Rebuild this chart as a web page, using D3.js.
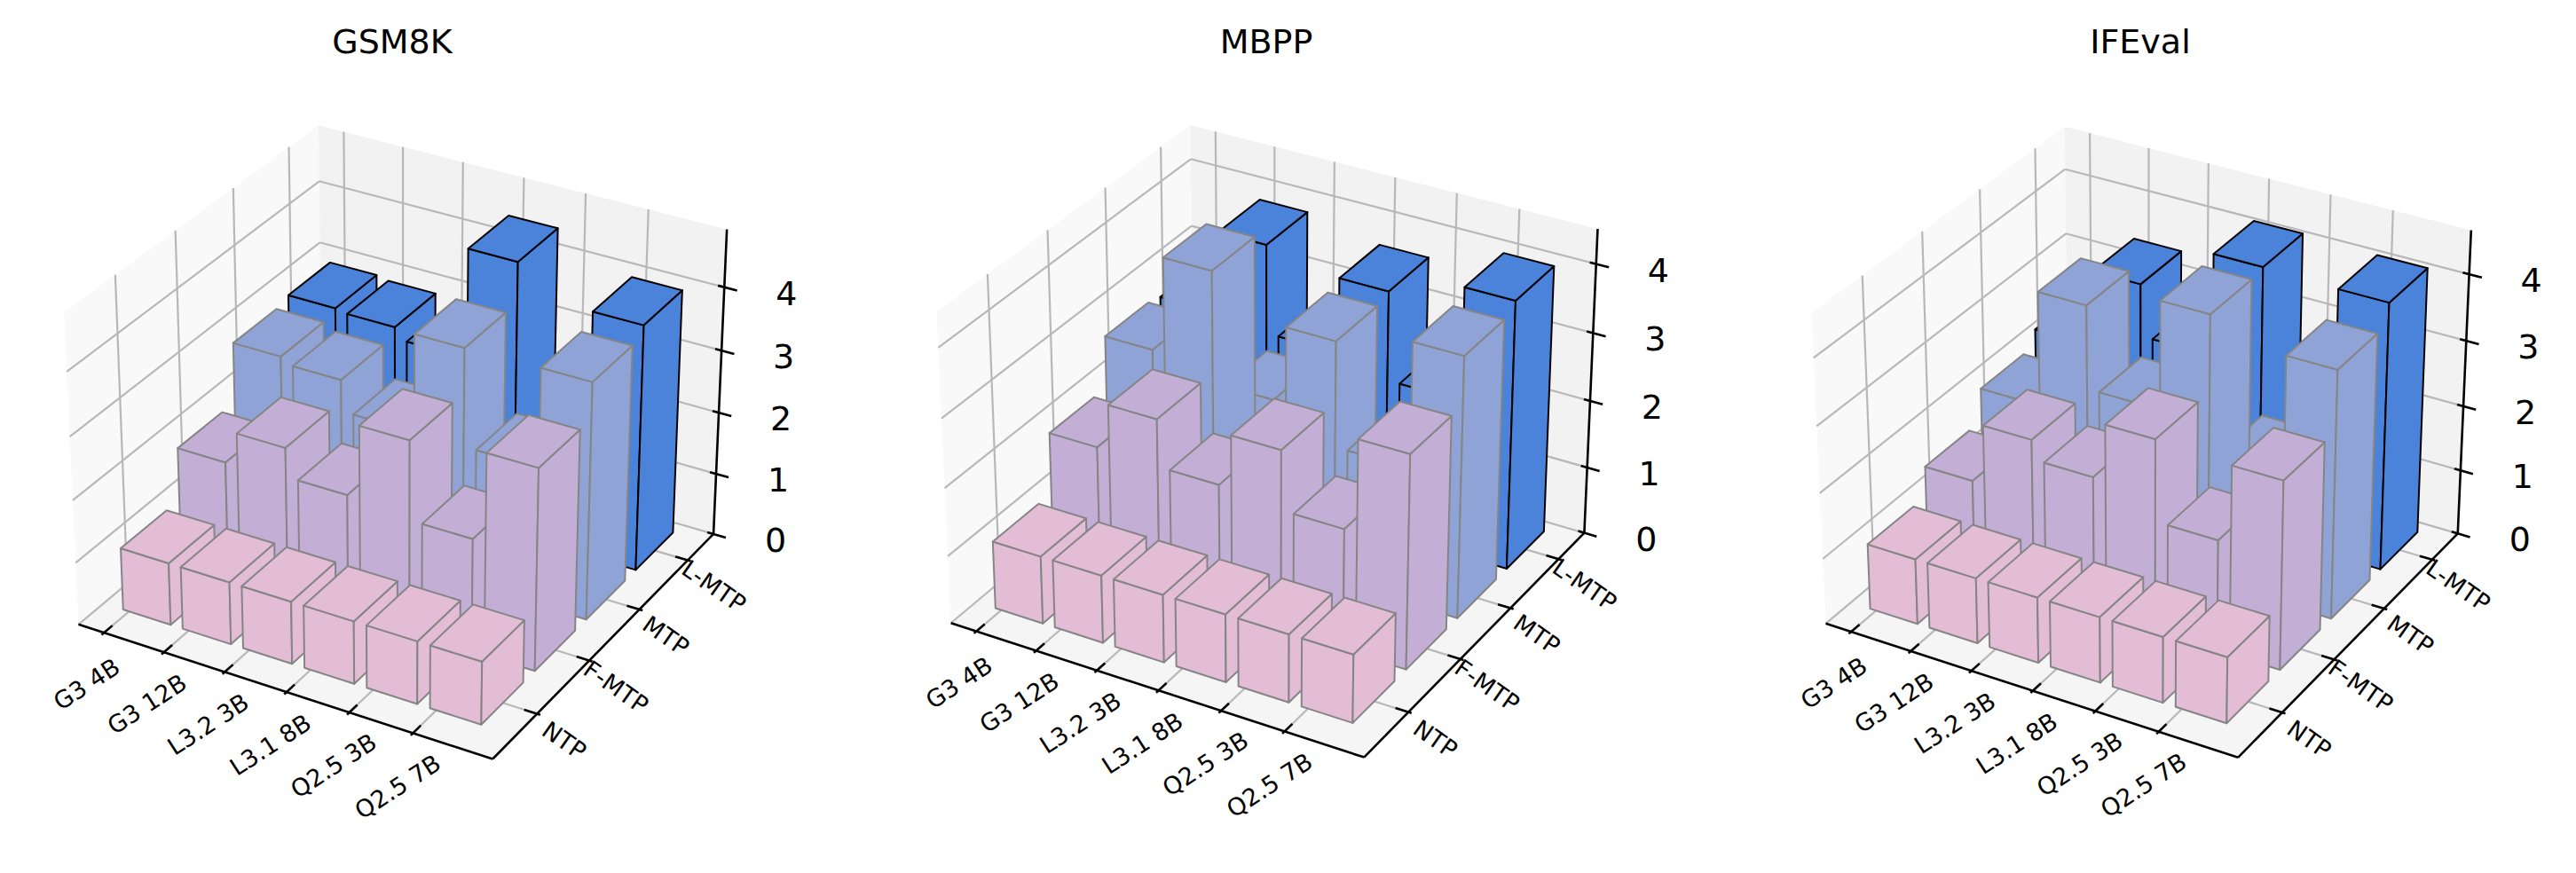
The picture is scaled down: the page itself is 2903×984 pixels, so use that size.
<!DOCTYPE html><html><head><meta charset="utf-8">
<script src="https://cdn.jsdelivr.net/npm/d3@7"></script>
<style>body{margin:0;background:#fff}</style></head><body>
<svg id="c" width="2903" height="984" xmlns="http://www.w3.org/2000/svg"></svg>
<script>
const categories = ["G3 4B","G3 12B","L3.2 3B","L3.1 8B","Q2.5 3B","Q2.5 7B"];
const series = ["NTP","F-MTP","MTP","L-MTP"];
const zTicks = [0,1,2,3,4];
const titles = ["GSM8K","MBPP","IFEval"];
// rows: NTP, F-MTP, MTP, L-MTP ; columns follow categories
const gsm8k  = [[1,1,1,1,1,1],[1.84,2.36,1.9,3.05,1.8,3.2],[2.8,2.7,2.2,3.75,2.2,3.77],[2.87,2.83,2.65,4.39,2.44,3.93]];
const mbpp   = [[1,1,1,1,1,1],[1.9,2.57,1.88,2.65,1.78,3.12],[2.66,4.05,2.43,3.53,2.0,3.82],[2.6,3.8,2.5,3.6,2.3,3.95]];
const ifeval = [[1,1,1,1,1,1],[1.46,2.36,2.07,2.91,1.68,2.85],[1.96,3.69,2.43,4.06,2.06,3.76],[2.2,3.35,2.56,4.1,2.36,4.07]];
const panelData = [gsm8k, mbpp, ifeval];
const zMax = [4.9, 4.5, 4.65];

const colors = ["#e3bcd5","#c3aed5","#8fa3d6","#4a83d9"];
const edgeColors = ["#858585","#858585","#858585","#000000"];
const font = "DejaVu Sans, sans-serif";

const svg = d3.select("#c");
const deg = Math.PI/180, elev = 30*deg, azim = -60*deg;
const nrm = Math.hypot(4,4,3), K = 1.8294640721620434/nrm;
const A = [4*K, 4*K, 3*K];
const R = A.map(a=>a/2);
const w = [Math.cos(elev)*Math.cos(azim), Math.cos(elev)*Math.sin(azim), Math.sin(elev)];
const eye = R.map((r,i)=>r + 10*w[i]);
let u = [-w[1], w[0], 0]; const un = Math.hypot(...u); u = u.map(a=>a/un);
const v = [w[1]*u[2]-w[2]*u[1], w[2]*u[0]-w[0]*u[2], w[0]*u[1]-w[1]*u[0]];
const dot = (a,b)=>a[0]*b[0]+a[1]*b[1]+a[2]*b[2];

const xLim = [-0.43, 6.23], yLim = [-0.82, 3.55];
const bx0 = -0.1, bw = 0.8, by0 = -0.4, bd = 0.78;

titles.forEach((title, p) => {
  const off = 985*p;
  const g = svg.append("g").attr("transform", `translate(${off},0)`);
  const sx = d3.scaleLinear().domain(xLim).range([0, A[0]]);
  const sy = d3.scaleLinear().domain(yLim).range([0, A[1]]);
  const sz = d3.scaleLinear().domain([0, zMax[p]]).range([0, A[2]]);
  const raw = (x,y,z) => { const P=[sx(x),sy(y),sz(z)]; const d=P.map((a,i)=>a-eye[i]); const depth=-dot(d,w); return [dot(d,u)/depth, dot(d,v)/depth, depth]; };
  const z4 = [[823,322],[812,291],[811,304]][p];
  const anchors = [[[xLim[0],yLim[0],0],[90,705]],[[xLim[1],yLim[0],0],[553,855]],[[xLim[1],yLim[1],0],[798,603]],[[xLim[1],yLim[1],4],z4]];
  const rs = anchors.map(a=>raw(...a[0])), ps = anchors.map(a=>a[1]);
  const mrx=d3.mean(rs,r=>r[0]), mry=d3.mean(rs,r=>r[1]), mX=d3.mean(ps,q=>q[0]), mY=d3.mean(ps,q=>q[1]);
  let num=0, den=0;
  rs.forEach((r,i)=>{const dx=r[0]-mrx, dy=r[1]-mry; num+=dx*(ps[i][0]-mX)-dy*(ps[i][1]-mY); den+=dx*dx+dy*dy;});
  const s=num/den, ox=mX-s*mrx, oy=mY+s*mry;
  const P = (x,y,z) => { const r=raw(x,y,z); return [ox+s*r[0], oy-s*r[1]]; };
  const poly = pts => "M" + pts.map(q=>P(...q).map(n=>n.toFixed(2)).join(",")).join("L") + "Z";
  const seg = (a,b) => { const A1=P(...a), B1=P(...b); return `M${A1[0]},${A1[1]}L${B1[0]},${B1[1]}`; };
  const [x0,x1]=xLim, [y0,y1]=yLim, Z=zMax[p];

  // panes
  g.append("path").attr("d", poly([[x0,y0,0],[x0,y1,0],[x0,y1,Z],[x0,y0,Z]])).attr("fill","#f9f9f9");
  g.append("path").attr("d", poly([[x0,y1,0],[x1,y1,0],[x1,y1,Z],[x0,y1,Z]])).attr("fill","#f2f2f2");
  g.append("path").attr("d", poly([[x0,y0,0],[x1,y0,0],[x1,y1,0],[x0,y1,0]])).attr("fill","#f5f5f5");
  // grid
  const grid = g.append("g").attr("stroke","#b8b8b8").attr("stroke-width",2.2).attr("fill","none");
  categories.forEach((c,i)=>{ grid.append("path").attr("d", seg([i,y0,0],[i,y1,0])); grid.append("path").attr("d", seg([i,y1,0],[i,y1,Z])); });
  series.forEach((c,j)=>{ grid.append("path").attr("d", seg([x0,j,0],[x1,j,0])); grid.append("path").attr("d", seg([x0,j,0],[x0,j,Z])); });
  zTicks.forEach(t=>{ grid.append("path").attr("d", seg([x0,y0,t],[x0,y1,t])); grid.append("path").attr("d", seg([x0,y1,t],[x1,y1,t])); });
  // axes
  const ax = g.append("g").attr("stroke","#000").attr("stroke-width",2.6).attr("fill","none");
  ax.append("path").attr("d", seg([x0,y0,0],[x1,y0,0]));
  ax.append("path").attr("d", seg([x1,y0,0],[x1,y1,0]));
  ax.append("path").attr("d", seg([x1,y1,0],[x1,y1,Z]));
  categories.forEach((c,i)=>{
    ax.append("path").attr("d", seg([i,y0-0.04,0],[i,y0+0.14,0]));
    const q = P(i, y0-0.55, 0);
    g.append("text").attr("x",q[0]+18).attr("y",q[1]+26).attr("text-anchor","middle").attr("dominant-baseline","central")
      .attr("transform",`rotate(-33,${q[0]+18},${q[1]+26})`).attr("font-family",font).attr("font-size",27).text(c);
  });
  series.forEach((c,j)=>{
    ax.append("path").attr("d", seg([x1+0.05,j,0],[x1-0.2,j,0]));
    const q = P(x1+0.35, j, 0);
    g.append("text").attr("x",q[0]+5).attr("y",q[1]+22).attr("text-anchor","middle").attr("dominant-baseline","central")
      .attr("transform",`rotate(35,${q[0]+5},${q[1]+22})`).attr("font-family",font).attr("font-size",27).text(c);
  });
  zTicks.forEach(t=>{
    ax.append("path").attr("d", seg([x1-0.1,y1,t],[x1+0.2,y1,t]));
    const q = P(x1,y1,t);
    g.append("text").attr("x",q[0]+70).attr("y",q[1]+7).attr("text-anchor","middle").attr("dominant-baseline","central")
      .attr("font-family",font).attr("font-size",38).text(t);
  });
  // bars
  const bars = [];
  panelData[p].forEach((row,j)=>row.forEach((h,i)=>{
    const xa=i+bx0, xb=xa+bw, ya=j+by0, yb=ya+bd;
    const c=[sx((xa+xb)/2), sy((ya+yb)/2), sz(h/2)];
    const dist = dot(eye.map((e,k)=>e-c[k]), w);
    bars.push({xa,xb,ya,yb,h,j,dist});
  }));
  bars.sort((a,b)=>b.dist-a.dist);
  bars.forEach(b=>{
    const gb = g.append("g").attr("fill",colors[b.j]).attr("stroke",edgeColors[b.j]).attr("stroke-width",2).attr("stroke-linejoin","round");
    gb.append("path").attr("d", poly([[b.xa,b.ya,0],[b.xb,b.ya,0],[b.xb,b.ya,b.h],[b.xa,b.ya,b.h]]));
    gb.append("path").attr("d", poly([[b.xb,b.ya,0],[b.xb,b.yb,0],[b.xb,b.yb,b.h],[b.xb,b.ya,b.h]]));
    gb.append("path").attr("d", poly([[b.xa,b.ya,b.h],[b.xb,b.ya,b.h],[b.xb,b.yb,b.h],[b.xa,b.yb,b.h]]));
  });
  g.append("text").attr("x",442).attr("y",47).attr("text-anchor","middle").attr("dominant-baseline","central")
    .attr("font-family",font).attr("font-size",38).text(title);
});
</script></body></html>
